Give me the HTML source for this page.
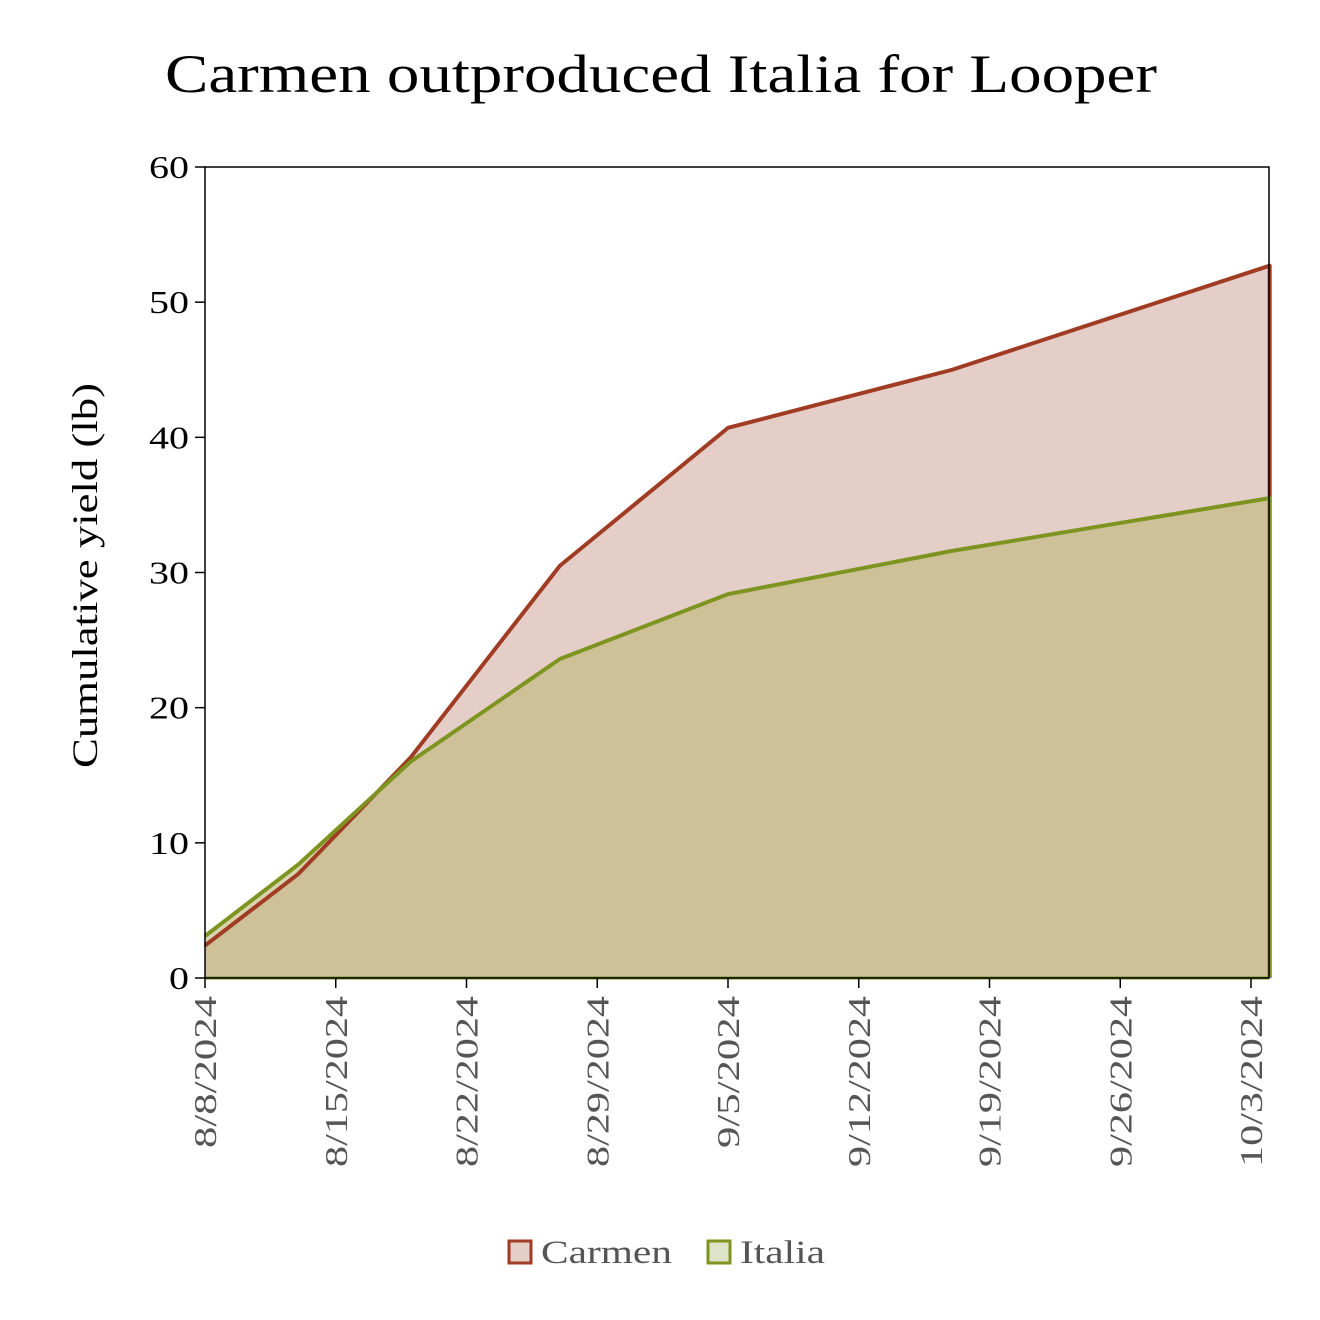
<!DOCTYPE html>
<html><head><meta charset="utf-8"><style>
body{margin:0;background:#fff;}
svg{display:block;font-family:"Liberation Serif",serif;}
</style></head><body>
<svg id="chart" width="1320" height="1320" viewBox="0 0 1320 1320">
<text x="165" y="92" font-size="54" fill="#000" textLength="992" lengthAdjust="spacingAndGlyphs">Carmen outproduced Italia for Looper</text>
<text transform="translate(97,768) rotate(-90)" font-size="36" fill="#000" textLength="385" lengthAdjust="spacingAndGlyphs">Cumulative yield (lb)</text>
<g id="plot"></g>
<g>
<g><rect x="509" y="1241" width="22" height="22" fill="#e5cec8" stroke="#a03c23" stroke-width="3"/><text x="541" y="1263" font-size="33" fill="#555" textLength="131" lengthAdjust="spacingAndGlyphs">Carmen</text></g>
<g><rect x="708" y="1241" width="22" height="22" fill="#dde2c8" stroke="#7d9420" stroke-width="3"/><text x="740" y="1263" font-size="33" fill="#555" textLength="85" lengthAdjust="spacingAndGlyphs">Italia</text></g>
</g>
</svg>
<script>
const dayOffsets=[0,5,11,19,28,40,57];
const carmen=[2.4,7.7,16.3,30.5,40.7,45.0,52.7];
const italia=[3.1,8.4,16.0,23.6,28.4,31.6,35.5];
const yTicks=[0,10,20,30,40,50,60];
const xTickLabels=["8/8/2024","8/15/2024","8/22/2024","8/29/2024","9/5/2024","9/12/2024","9/19/2024","9/26/2024","10/3/2024"];
const X0=205,X1=1269,Y0=978,Y1=167,yMax=60;
const pxPerDay=(1251-205)/56;
function xs(d){return X0+d*pxPerDay;}
function ys(v){return Y0-(v/yMax)*(Y0-Y1);}
const NS="http://www.w3.org/2000/svg";
const g=document.getElementById('plot');
function mk(t,a){const e=document.createElementNS(NS,t);for(const k in a)e.setAttribute(k,a[k]);g.appendChild(e);return e;}
function pts(vals){return dayOffsets.map((d,i)=>xs(d)+","+ys(vals[i])).join(" ");}
const last=xs(dayOffsets[dayOffsets.length-1]);
function area(vals,fill,name){
 const a=mk('polygon',{points:xs(0)+","+ys(0)+" "+pts(vals)+" "+last+","+ys(0),fill:fill});
 
 
}
function line(vals,stroke,name){
 const l=mk('polyline',{points:pts(vals)+" "+last+","+ys(0),fill:"none",stroke:stroke,"stroke-width":4,"stroke-linejoin":"round"});
 
 
}
area(carmen,"#e5cec8","carmen");
area(italia,"rgba(190,185,120,0.6)","italia");
line(carmen,"#a03c23","carmen");
line(italia,"#7d9420","italia");
const base=mk('line',{x1:X0,y1:Y0,x2:X1,y2:Y0,stroke:"#7d9420","stroke-width":3});


const frame=mk('rect',{x:X0,y:Y1,width:X1-X0,height:Y0-Y1,fill:"none",stroke:"#000","stroke-width":1.5});


yTicks.forEach(v=>{
 const t=mk('line',{x1:X0-10,y1:ys(v),x2:X0,y2:ys(v),stroke:"#000","stroke-width":1.5});
 
 
 const s=String(v);
 const tx=mk('text',{x:X0-16,y:ys(v)+11,"text-anchor":"end","font-size":32,fill:"#000",textLength:s.length*20,lengthAdjust:"spacingAndGlyphs"});
 tx.textContent=s;
 
 
});
xTickLabels.forEach((s,i)=>{
 const x=xs(i*7);
 const t=mk('line',{x1:x,y1:Y0,x2:x,y2:Y0+10,stroke:"#000","stroke-width":1.5});
 
 
 const tx=mk('text',{transform:"translate("+(x+11)+","+(Y0+18)+") rotate(-90)","text-anchor":"end","font-size":32,fill:"#555",textLength:s.length*19,lengthAdjust:"spacingAndGlyphs"});
 tx.textContent=s;
 
 
});
</script>
</body></html>
